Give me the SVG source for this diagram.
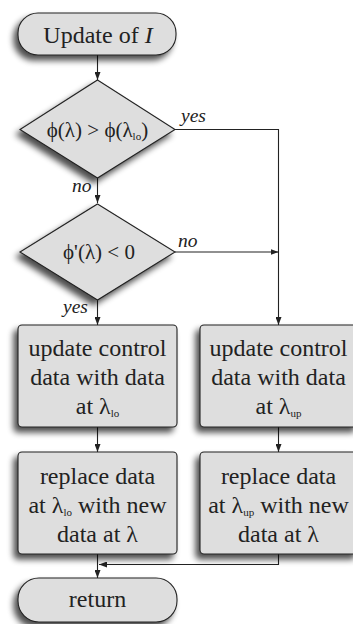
<svg xmlns="http://www.w3.org/2000/svg" width="353" height="624" viewBox="0 0 353 624">
  <defs>
    <filter id="shadow" x="-20%" y="-20%" width="140%" height="150%">
      <feGaussianBlur in="SourceAlpha" stdDeviation="3"/>
      <feOffset dx="-4" dy="5" result="blur"/>
      <feComponentTransfer><feFuncA type="linear" slope="0.7"/></feComponentTransfer>
      <feMerge><feMergeNode/><feMergeNode in="SourceGraphic"/></feMerge>
    </filter>
    <marker id="arrow" markerUnits="userSpaceOnUse" markerWidth="8" markerHeight="6" refX="8" refY="3" orient="auto">
      <path d="M0,0 L8,3 L0,6 z" fill="#222"/>
    </marker>
  </defs>
  <style>
    .shape { fill: #dedede; stroke: #222; stroke-width: 1.1; filter: url(#shadow); }
    text { font-family: 'Liberation Serif', 'DejaVu Serif', serif; fill: #222; }
    .txt { font-size: 24px; text-anchor: middle; }
    .dtxt { font-size: 21px; text-anchor: middle; }
    .lbl { font-size: 19.5px; font-style: italic; }
    .sub { font-size: 11px; }
    .conn { fill: none; stroke: #222; stroke-width: 1.1; }
  </style>

  <!-- connectors -->
  <g id="connectors">
    <path class="conn" d="M97.5,55 V80" marker-end="url(#arrow)"/>
    <path class="conn" d="M175,129.5 H278.5 V325" marker-end="url(#arrow)"/>
    <path class="conn" d="M97.5,178 V203" marker-end="url(#arrow)"/>
    <path class="conn" d="M175,252 H278.5" marker-end="url(#arrow)"/>
    <path class="conn" d="M97.5,300 V325" marker-end="url(#arrow)"/>
    <path class="conn" d="M97.5,427 V452" marker-end="url(#arrow)"/>
    <path class="conn" d="M278.5,427 V452" marker-end="url(#arrow)"/>
    <path class="conn" d="M278.5,554 V564.5 H99" marker-end="url(#arrow)"/>
    <path class="conn" d="M97.5,554 V578" marker-end="url(#arrow)"/>
    <text class="lbl" x="181" y="122">yes</text>
    <text class="lbl" x="72" y="192">no</text>
    <text class="lbl" x="178" y="247">no</text>
    <text class="lbl" x="63" y="313">yes</text>
  </g>

  <!-- start terminator -->
  <g id="start">
    <rect class="shape" x="18" y="13" width="158" height="42" rx="20" ry="20"/>
    <text class="txt" x="98" y="43">Update of <tspan font-style="italic">I</tspan></text>
  </g>

  <!-- first decision -->
  <g id="decision1">
    <polygon class="shape" points="97.5,80 175,129.5 97.5,178 20,129.5"/>
    <text class="dtxt" x="97.5" y="137">ϕ(λ) &gt; ϕ(λ<tspan class="sub" dy="3">lo</tspan><tspan dy="-3">)</tspan></text>
  </g>

  <!-- second decision -->
  <g id="decision2">
    <polygon class="shape" points="97.5,204 175,252 97.5,300 20,252"/>
    <text class="dtxt" x="99" y="259">ϕ'(λ) &lt; 0</text>
  </g>

  <!-- left branch -->
  <g id="update-lo">
    <rect class="shape" x="18" y="325" width="159" height="102" rx="4" ry="4"/>
    <text class="txt" x="97.5" y="356">update control</text>
    <text class="txt" x="97.5" y="385">data with data</text>
    <text class="txt" x="97.5" y="414">at λ<tspan class="sub" dy="3">lo</tspan></text>
  </g>

  <g id="replace-lo">
    <rect class="shape" x="18" y="452" width="159" height="102" rx="4" ry="4"/>
    <text class="txt" x="97.5" y="484">replace data</text>
    <text class="txt" x="97.5" y="513">at λ<tspan class="sub" dy="3">lo</tspan><tspan dy="-3"> with new</tspan></text>
    <text class="txt" x="97.5" y="542">data at λ</text>
  </g>

  <!-- right branch -->
  <g id="update-up">
    <rect class="shape" x="200" y="325" width="159" height="102" rx="4" ry="4"/>
    <text class="txt" x="278.5" y="356">update control</text>
    <text class="txt" x="278.5" y="385">data with data</text>
    <text class="txt" x="278.5" y="414">at λ<tspan class="sub" dy="3">up</tspan></text>
  </g>

  <g id="replace-up">
    <rect class="shape" x="200" y="452" width="159" height="102" rx="4" ry="4"/>
    <text class="txt" x="278.5" y="484">replace data</text>
    <text class="txt" x="278.5" y="513">at λ<tspan class="sub" dy="3">up</tspan><tspan dy="-3"> with new</tspan></text>
    <text class="txt" x="278.5" y="542">data at λ</text>
  </g>

  <!-- end terminator -->
  <g id="return">
    <rect class="shape" x="18" y="578" width="159" height="44" rx="21" ry="21"/>
    <text class="txt" x="97.5" y="607">return</text>
  </g>
</svg>
